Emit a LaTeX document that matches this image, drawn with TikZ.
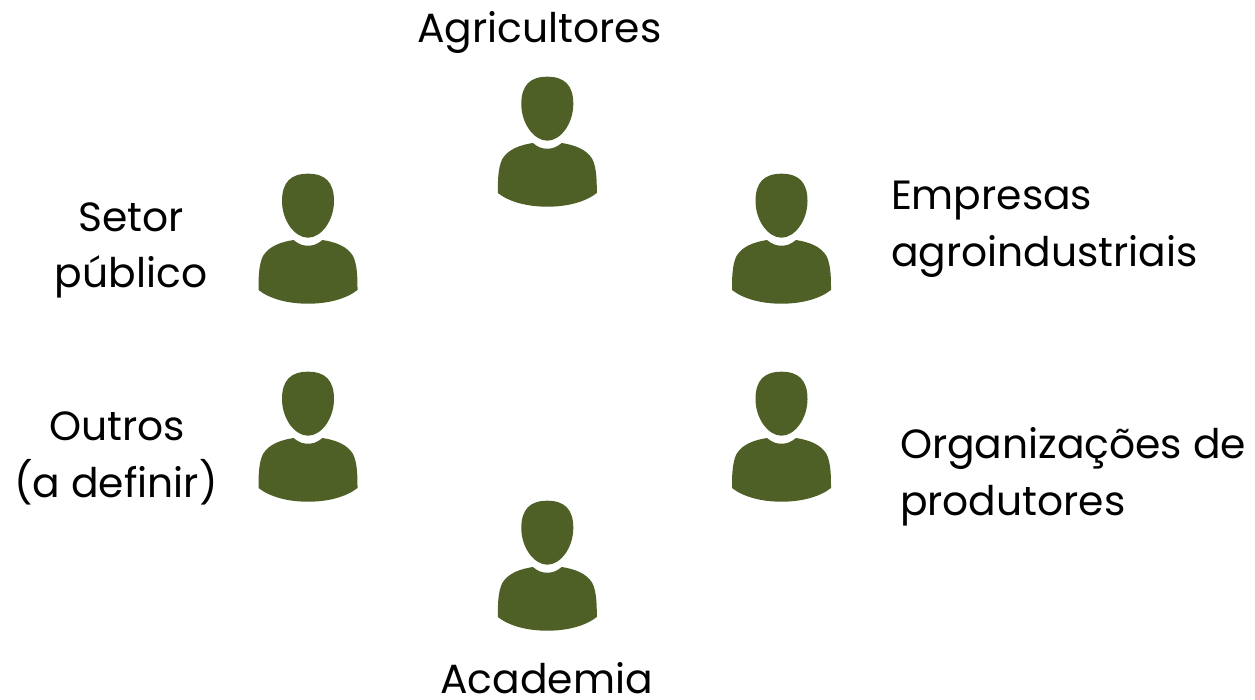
\documentclass[tikz,border=0pt]{standalone}
\usepackage{fontspec}
\setmainfont{Poppins}
\definecolor{iconolive}{HTML}{4E6026}
\tikzset{
  label text/.style={anchor=base west,inner sep=0pt,outer sep=0pt,font=\fontsize{30.6}{30.6}\selectfont,text=black},
  label mid/.style={label text,anchor=base},
  pics/person/.style={code={
    \fill[iconolive] (0,-65.3) .. controls (17,-65.3) and (26,-57) .. (26,-38)
      .. controls (26,-18) and (13,-1.3) .. (0,-1.3)
      .. controls (-13,-1.3) and (-26,-18) .. (-26,-38)
      .. controls (-26,-57) and (-17,-65.3) .. (0,-65.3) -- cycle;
    \fill[iconolive] (-14.5,1) .. controls (-9,5.5) and (-5,6.7) .. (0,6.7)
      .. controls (5,6.7) and (9,5.5) .. (14.5,1)
      .. controls (27,3) and (39,7) .. (45,17)
      .. controls (49.5,26) and (49.5,40) .. (49.5,51)
      .. controls (38,60) and (20,64.7) .. (0,64.7)
      .. controls (-20,64.7) and (-38,60) .. (-49.5,51)
      .. controls (-49.5,40) and (-49.5,26) .. (-45,17)
      .. controls (-39,7) and (-27,3) .. (-14.5,1) -- cycle;
  }}
}
\begin{document}
\begin{tikzpicture}[x=0.75pt,y=-0.75pt]
\useasboundingbox (0,0) rectangle (1255,699);
\pic (top) at (547.3,142) {person};
\pic (ul) at (308,239) {person};
\pic (ur) at (781.5,239) {person};
\pic (ll) at (308,437) {person};
\pic (lr) at (781.5,437) {person};
\pic (bot) at (547.3,566) {person};
\node[label mid] (agri) at (539.5,43) {Agricultores};
\node[label mid] (setor) at (131,231) {Setor};
\node[label mid] (publico) at (131,287) {público};
\node[label text] (emp) at (891,209) {Empresas};
\node[label text] (agro) at (891,266) {agroindustriais};
\node[label mid] (outros) at (117,440) {Outros};
\node[label mid] (def) at (116,497) {(a definir)};
\node[label text] (org) at (900,458) {Organizações de};
\node[label text] (prod) at (900,515) {produtores};
\node[label mid] (acad) at (546.5,693) {Academia};
\end{tikzpicture}
\end{document}
